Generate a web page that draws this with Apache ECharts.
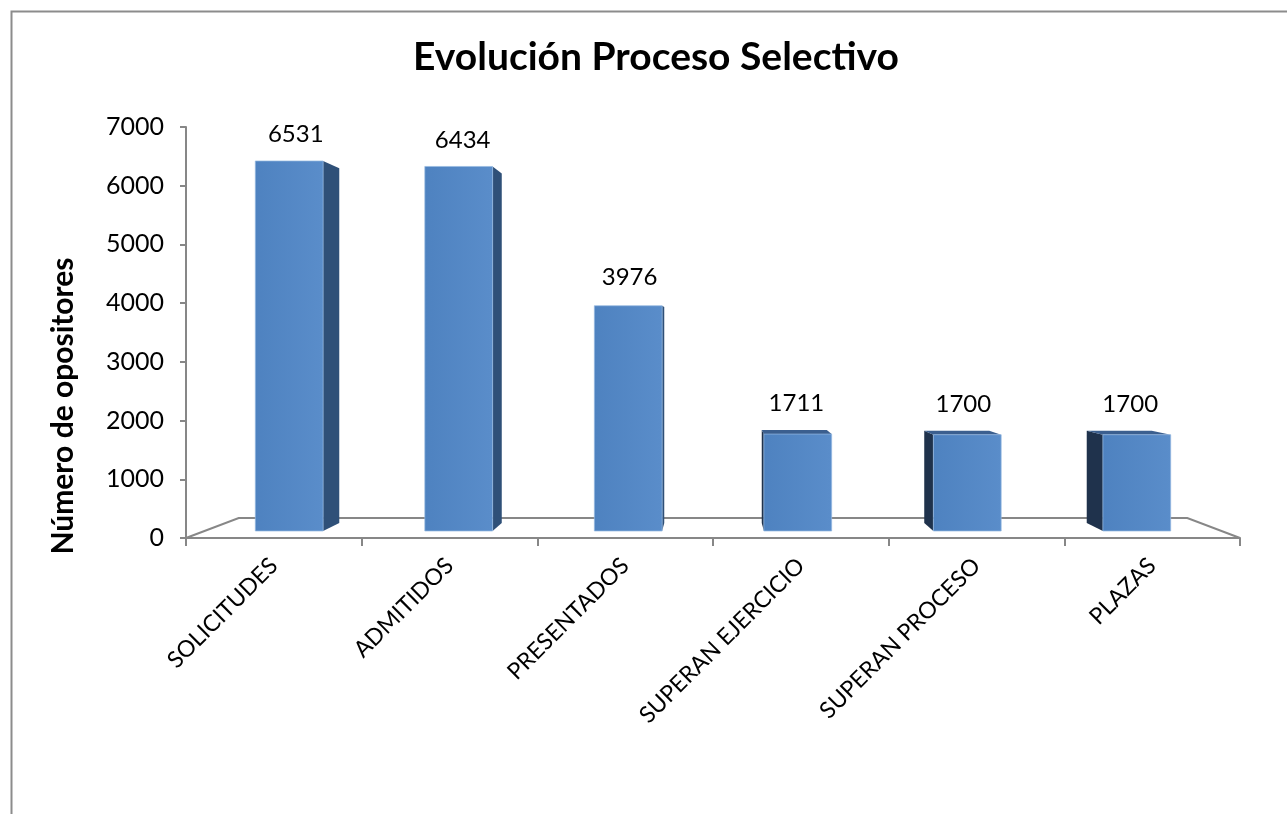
<!DOCTYPE html>
<html>
<head>
<meta charset="utf-8">
<script src="https://cdn.jsdelivr.net/npm/echarts@6/dist/echarts.min.js"></script>
<style>
  html, body { margin: 0; padding: 0; background: #fff; }
  #chart { width: 1287px; height: 814px; }
</style>
</head>
<body>
<div id="chart"></div>
<script>
const categories = ['SOLICITUDES', 'ADMITIDOS', 'PRESENTADOS', 'SUPERAN EJERCICIO', 'SUPERAN PROCESO', 'PLAZAS'];
const values = [6531, 6434, 3976, 1711, 1700, 1700];
const yMin = 0;
const yMax = 7000;
const yStep = 1000;

// fake 3D: perspective around an eye level, depths as scale factors
const EYE_LEVEL = 3400;
const FLOOR_FRONT = 1.0, FLOOR_BACK = 0.9;
const BAR_FRONT = 0.965, BAR_BACK = 0.925;
const BAR_RATIO = 0.4;
const FONT = 'Lato, "Open Sans", sans-serif';

function makeProj(params, api) {
  const cs = params.coordSys;
  const vx = cs.x + cs.width / 2;
  const vy = api.coord([0, EYE_LEVEL])[1];
  return function (x, y, s) {
    return [vx + (x - vx) * s, vy + (y - vy) * s];
  };
}

function renderFloor(params, api) {
  const P = makeProj(params, api);
  const cs = params.coordSys;
  const yB = api.coord([0, 0])[1];
  const l = cs.x, r = cs.x + cs.width;
  return {
    type: 'polyline',
    shape: { points: [P(l, yB, FLOOR_FRONT), P(l, yB, FLOOR_BACK), P(r, yB, FLOOR_BACK), P(r, yB, FLOOR_FRONT)] },
    style: { stroke: '#878787', lineWidth: 2, fill: null }
  };
}

function renderBar(params, api) {
  const P = makeProj(params, api);
  const cs = params.coordSys;
  const vx = cs.x + cs.width / 2;
  const vy = api.coord([0, EYE_LEVEL])[1];
  const v = api.value(1);
  const base = api.coord([api.value(0), 0]);
  const top = api.coord([api.value(0), v]);
  const half = api.size([1, 0])[0] * BAR_RATIO / 2;
  const xL = base[0] - half, xR = base[0] + half;
  const yB = base[1], yT = top[1];
  const children = [];

  // side face
  if (base[0] < vx) {
    children.push({
      type: 'polygon',
      shape: { points: [P(xR, yT, BAR_FRONT), P(xR, yB, BAR_FRONT), P(xR, yB, BAR_BACK), P(xR, yT, BAR_BACK)] },
      style: { fill: '#2f5078' }
    });
  } else {
    children.push({
      type: 'polygon',
      shape: { points: [P(xL, yT, BAR_FRONT), P(xL, yB, BAR_FRONT), P(xL, yB, BAR_BACK), P(xL, yT, BAR_BACK)] },
      style: { fill: '#1f324c' }
    });
  }
  // top face, only seen below eye level
  if (yT > vy) {
    children.push({
      type: 'polygon',
      shape: { points: [P(xL, yT, BAR_FRONT), P(xR, yT, BAR_FRONT), P(xR, yT, BAR_BACK), P(xL, yT, BAR_BACK)] },
      style: { fill: '#3b5f8f' }
    });
  }
  // front face
  const f1 = P(xL, yT, BAR_FRONT), f2 = P(xR, yB, BAR_FRONT);
  children.push({
    type: 'rect',
    shape: { x: f1[0], y: f1[1], width: f2[0] - f1[0], height: f2[1] - f1[1] },
    style: {
      fill: new echarts.graphic.LinearGradient(0, 0, 1, 0, [
        { offset: 0, color: '#4e82c0' },
        { offset: 1, color: '#5a8dca' }
      ]),
      stroke: 'rgba(150,185,225,0.7)',
      lineWidth: 1
    }
  });
  // value label
  const lp = P(base[0], yT, 0.95);
  children.push({
    type: 'text',
    x: lp[0],
    y: lp[1] - 29,
    style: {
      text: String(v),
      fill: '#000',
      fontSize: 24,
      fontFamily: FONT,
      align: 'center',
      verticalAlign: 'middle'
    }
  });
  return { type: 'group', children: children };
}

const chart = echarts.init(document.getElementById('chart'));
chart.setOption({
  backgroundColor: '#fff',
  animation: false,
  title: {
    text: 'Evolución Proceso Selectivo',
    left: 651,
    top: 33,
    textAlign: 'center',
    textStyle: { fontFamily: FONT, fontSize: 39, fontWeight: 'bold', color: '#000' }
  },
  graphic: [
    {
      type: 'rect',
      left: 9, top: 9,
      shape: { width: 2000, height: 2000 },
      style: { fill: null, stroke: '#8c8c8c', lineWidth: 2 },
      silent: true
    },
    {
      type: 'text',
      x: 63, y: 406,
      rotation: Math.PI / 2,
      style: {
        text: 'Número de opositores',
        fontFamily: FONT, fontSize: 30, fontWeight: 'bold', fill: '#000',
        align: 'center', verticalAlign: 'middle'
      }
    }
  ],
  grid: { left: 186, right: 47, top: 127, bottom: 276, containLabel: false },
  xAxis: {
    type: 'category',
    data: categories,
    axisLine: { lineStyle: { color: '#878787', width: 2 } },
    axisTick: { show: true, length: 8, lineStyle: { color: '#878787', width: 2 } },
    axisLabel: { rotate: 45, margin: 24, fontSize: 23, fontFamily: FONT, color: '#000', interval: 0 }
  },
  yAxis: {
    type: 'value',
    min: yMin, max: yMax, interval: yStep,
    splitLine: { show: false },
    axisLine: { show: true, lineStyle: { color: '#878787', width: 2 } },
    axisTick: { show: true, length: 6, lineStyle: { color: '#878787', width: 2 } },
    axisLabel: { margin: 22, fontSize: 25, fontFamily: FONT, color: '#000', formatter: (v) => String(v) }
  },
  series: [
    { type: 'custom', name: 'floor', data: [[0, 0]], renderItem: renderFloor, clip: false, z: 1, silent: true },
    {
      type: 'custom',
      name: 'opositores',
      data: values.map((v, i) => [i, v]),
      encode: { x: 0, y: 1 },
      renderItem: renderBar,
      clip: false,
      z: 2
    }
  ]
});
</script>
</body>
</html>
